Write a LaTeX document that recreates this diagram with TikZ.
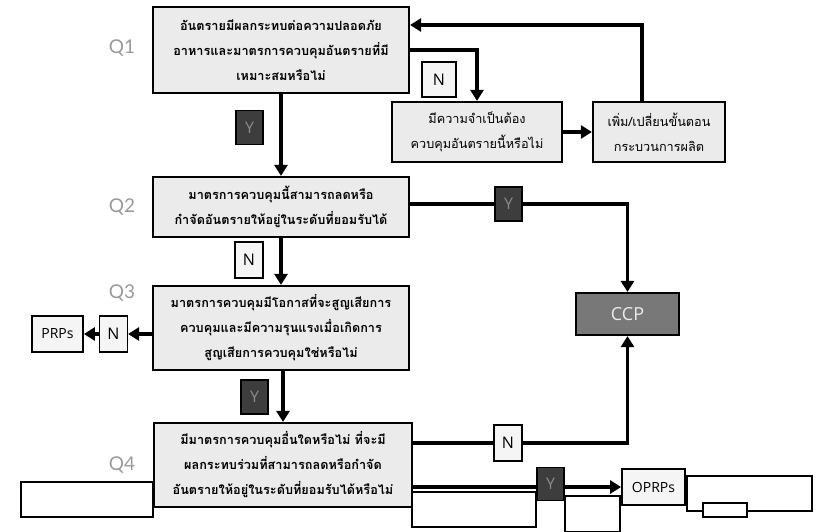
\documentclass[tikz,border=0pt]{standalone}
\usepackage{fontspec}
\setmainfont{Open Sans}
\newfontfamily\thaifont[Script=Thai]{Loma}
\newfontfamily\qfont{Lato}
\usetikzlibrary{arrows.meta}

\definecolor{boxfill}{rgb}{.92,.92,.92}
\definecolor{ynfill}{rgb}{.96,.96,.96}
\definecolor{dark}{rgb}{.24,.24,.24}
\definecolor{darktext}{rgb}{.55,.55,.55}
\definecolor{ccpfill}{rgb}{.47,.47,.47}
\definecolor{qgray}{rgb}{.6,.6,.6}

\begin{document}
\begin{tikzpicture}[x=1pt,y=-1pt,
  question/.style={draw,line width=2.2pt,fill=boxfill,inner sep=0pt,
    align=center,font=\thaifont\bfseries\fontsize{12.7}{25}\selectfont},
  stepbox/.style={draw,line width=2.2pt,fill=boxfill,inner sep=0pt,
    align=center,font=\thaifont\fontsize{12.7}{25}\selectfont},
  qlabel/.style={text=qgray,font=\qfont\fontsize{19}{20}\selectfont},
  yes/.style={draw,line width=1.2pt,fill=dark,text=darktext,inner sep=0pt,
    minimum width=27pt,minimum height=34pt,font=\fontsize{16}{18}\selectfont},
  no/.style={draw,line width=1.2pt,fill=ynfill,inner sep=0pt,
    minimum width=28pt,minimum height=36pt,font=\fontsize{16}{18}\selectfont},
  result/.style={draw,line width=1.8pt,fill=ynfill,inner sep=0pt,
    font=\fontsize{14}{16}\selectfont},
  flow/.style={line width=3.4pt,-{Triangle[length=11pt,width=13pt]}},
  blank/.style={draw,line width=1.4pt,fill=white}]

\useasboundingbox (0,0) rectangle (825,532);

\node [question,minimum width=256pt,minimum height=86pt] (q1) at (281,50)
  {อันตรายมีผลกระทบต่อความปลอดภัย\\อาหารและมาตรการควบคุมอันตรายที่มี\\เหมาะสมหรือไม่};
\node [question,minimum width=256pt,minimum height=60pt] (q2) at (281,207)
  {มาตรการควบคุมนี้สามารถลดหรือ\\กำจัดอันตรายให้อยู่ในระดับที่ยอมรับได้};
\node [question,minimum width=256pt,minimum height=84pt] (q3) at (281,328)
  {มาตรการควบคุมมีโอกาสที่จะสูญเสียการ\\ควบคุมและมีความรุนแรงเมื่อเกิดการ\\สูญเสียการควบคุมใช่หรือไม่};
\node [question,minimum width=258pt,minimum height=84pt] (q4) at (283,465)
  {มีมาตรการควบคุมอื่นใดหรือไม่ ที่จะมี\\ผลกระทบร่วมที่สามารถลดหรือกำจัด\\อันตรายให้อยู่ในระดับที่ยอมรับได้หรือไม่};

\node [qlabel] (lq1) at (122,48) {Q1};
\node [qlabel] (lq2) at (122,207) {Q2};
\node [qlabel] (lq3) at (122,293) {Q3};
\node [qlabel] (lq4) at (122,465) {Q4};

\node [stepbox,minimum width=170pt,minimum height=60pt] (need) at (477,132)
  {มีความจำเป็นต้อง\\ควบคุมอันตรายนี้หรือไม่};
\node [stepbox,minimum width=132pt,minimum height=60pt] (change) at (659,132)
  {เพิ่ม/เปลี่ยนขั้นตอน\\กระบวนการผลิต};

\node [draw,line width=2.2pt,fill=ccpfill,text=white!92!black,inner sep=0pt,
  minimum width=103pt,minimum height=42pt,font=\fontsize{18}{20}\selectfont]
  (ccp) at (627.5,314) {CCP};
\node [result,minimum width=51pt,minimum height=36pt] (prp) at (57.5,334) {PRPs};
\node [result,minimum width=63pt,minimum height=36pt] (oprp) at (653.5,487) {OPRPs};

\draw [flow] (q1) -- (q2);
\draw [flow] (q1.east) -| (need.north);
\draw [flow] (need) -- (change);
\draw [flow] ([xshift=-17pt]change.north) |- ([yshift=25pt]q1.east);
\draw [flow] ([yshift=3pt]q2.east) -| (ccp.north);
\draw [flow] (q2) -- (q3);
\draw [flow] (q4.north |- q3.south) -- (q4.north);
\draw [flow] ([yshift=22pt]q4.east) -| (ccp.south);
\draw [flow] ([yshift=-22pt]q4.east) -- (oprp.west);

\node [no] (n3) at (113.5,334) {N};
\draw [flow] (q3.west |- n3) -- (n3.east);
\draw [flow] (n3.west) -- (prp.east);

\node [yes] (y1) at (249.5,127.5) {Y};
\node [no,minimum width=34pt,minimum height=35pt] (n1) at (439,79.5) {N};
\node [no] (n2) at (249,260) {N};
\node [yes] (y2) at (508.5,204) {Y};
\node [yes] (y3) at (254.5,397) {Y};
\node [no] (n4) at (508,443) {N};
\node [yes,minimum height=33pt] (y4) at (550.5,484) {Y};

\draw [blank] (21,482) rectangle (153,517);
\draw [blank] (412,492) rectangle (536,527);
\draw [blank] (565,496) rectangle (620,532);
\draw [blank] (687,476) rectangle (812,511);
\draw [blank] (703,503) rectangle (747,517);
\end{tikzpicture}
\end{document}
